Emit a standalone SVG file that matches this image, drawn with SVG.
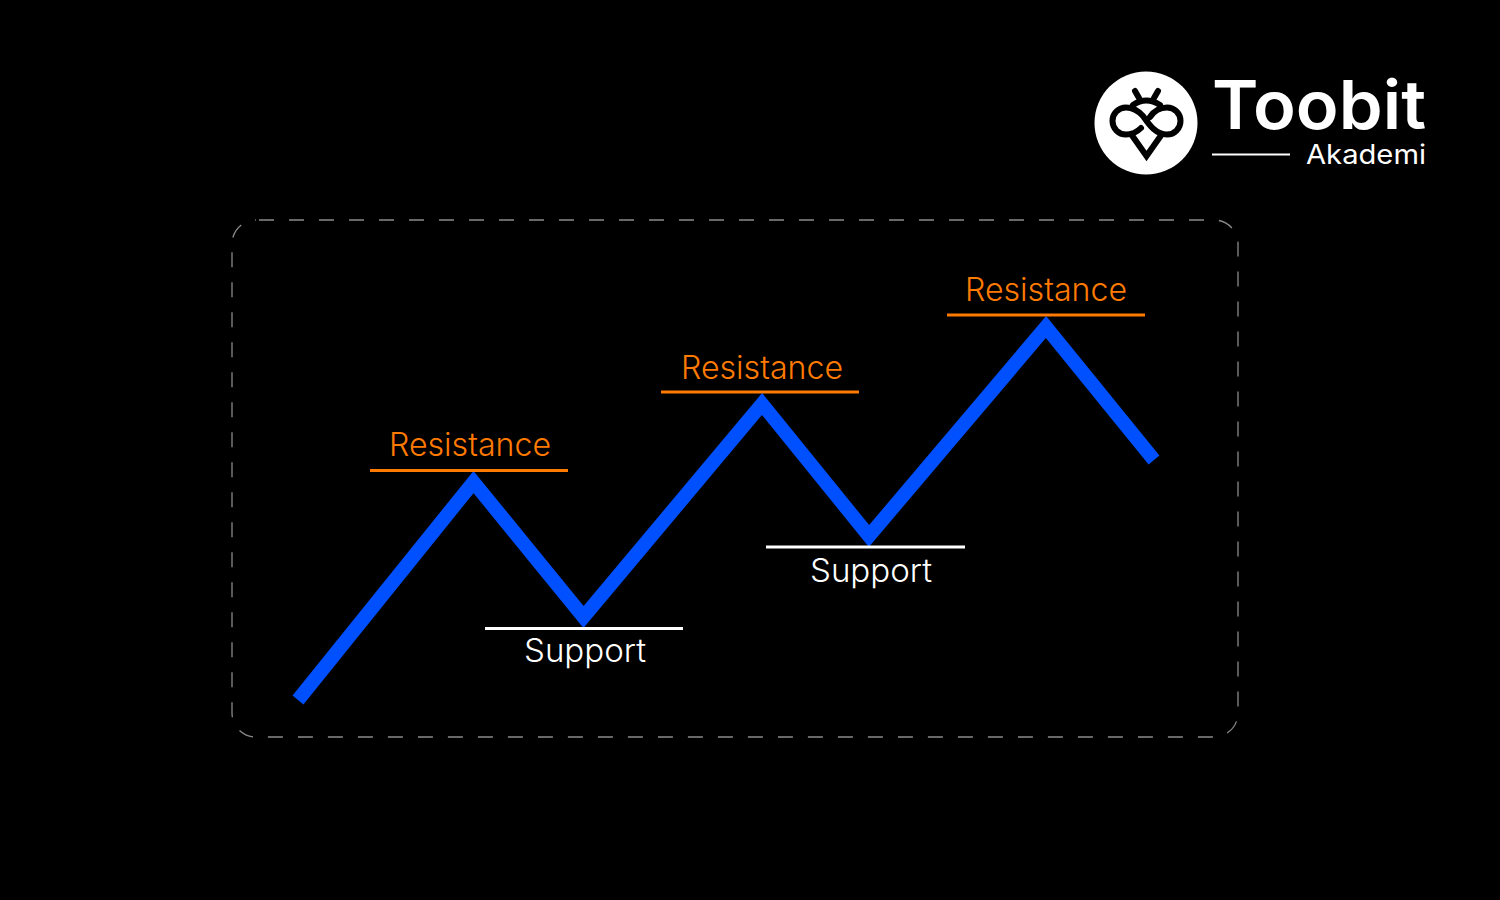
<svg xmlns="http://www.w3.org/2000/svg" width="1500" height="900" viewBox="0 0 1500 900">
<style>
.t{font-family:"Inter","Liberation Sans",sans-serif;font-weight:300;font-size:32px;text-anchor:middle}
.r{fill:#ff7a00}.s{fill:#fff}
.lr{stroke:#ff7a00;stroke-width:3}.ls{stroke:#fff;stroke-width:3}
.ic{fill:none;stroke:#000;stroke-width:6;stroke-linecap:round;stroke-linejoin:miter}
</style>
<rect width="1500" height="900" fill="#000"/>
<rect id="frame" x="232" y="220" width="1006" height="517" rx="24" fill="none" stroke="#8a8a8a" stroke-width="1.300" stroke-dasharray="15 15" stroke-dashoffset="-3"/>
<g id="connectors">
<polyline points="298,700 473.500,482 583.500,617 762,404 869,536 1046,327 1154,460" fill="none" stroke="#0050ff" stroke-width="14" stroke-linejoin="miter"/>
</g>
<g id="resistance-1"><line class="lr" x1="370" y1="470.500" x2="568" y2="470.500"/><text class="t r" x="470" y="456" textLength="162" lengthAdjust="spacingAndGlyphs">Resistance</text></g>
<g id="support-1"><line class="ls" x1="485" y1="628.500" x2="683" y2="628.500"/><text class="t s" x="585" y="662" textLength="122" lengthAdjust="spacingAndGlyphs">Support</text></g>
<g id="resistance-2"><line class="lr" x1="661" y1="392" x2="859" y2="392"/><text class="t r" x="762" y="379" textLength="162" lengthAdjust="spacingAndGlyphs">Resistance</text></g>
<g id="support-2"><line class="ls" x1="766" y1="547" x2="965" y2="547"/><text class="t s" x="871" y="582" textLength="122" lengthAdjust="spacingAndGlyphs">Support</text></g>
<g id="resistance-3"><line class="lr" x1="947" y1="315" x2="1145" y2="315"/><text class="t r" x="1046" y="301" textLength="162" lengthAdjust="spacingAndGlyphs">Resistance</text></g>
<g id="logo">
<circle cx="1146" cy="123" r="51.500" fill="#fff"/>
<path class="ic" d="M1135,91 L1139,98 M1158,91 L1154,98"/>
<path class="ic" stroke-linecap="butt" d="M1133,105 Q1146,96 1160,105"/>
<path class="ic" stroke-linecap="butt" d="M1150,117 C1154,111 1160,107.500 1167,107.500 A13.500,13.500 0 0 1 1167,134.500 C1155,134.500 1148,123 1143,116 C1138,110.500 1133,107.500 1126,107.500 A13.500,13.500 0 0 0 1126,134.500 C1132,134.500 1137,132 1141,128"/>
<path class="ic" stroke-linecap="butt" d="M1131,134 L1146.500,156 L1162,134"/>
<text x="1212" y="129" fill="#fff" font-family="Inter,'Liberation Sans',sans-serif" font-weight="600" font-size="67" textLength="214" lengthAdjust="spacingAndGlyphs">Toobit</text>
<line x1="1212" y1="154.500" x2="1290" y2="154.500" stroke="#fff" stroke-width="2"/>
<text x="1306" y="164" fill="#fff" font-family="Inter,'Liberation Sans',sans-serif" font-weight="400" font-size="27" textLength="120" lengthAdjust="spacingAndGlyphs">Akademi</text>
</g>
</svg>
